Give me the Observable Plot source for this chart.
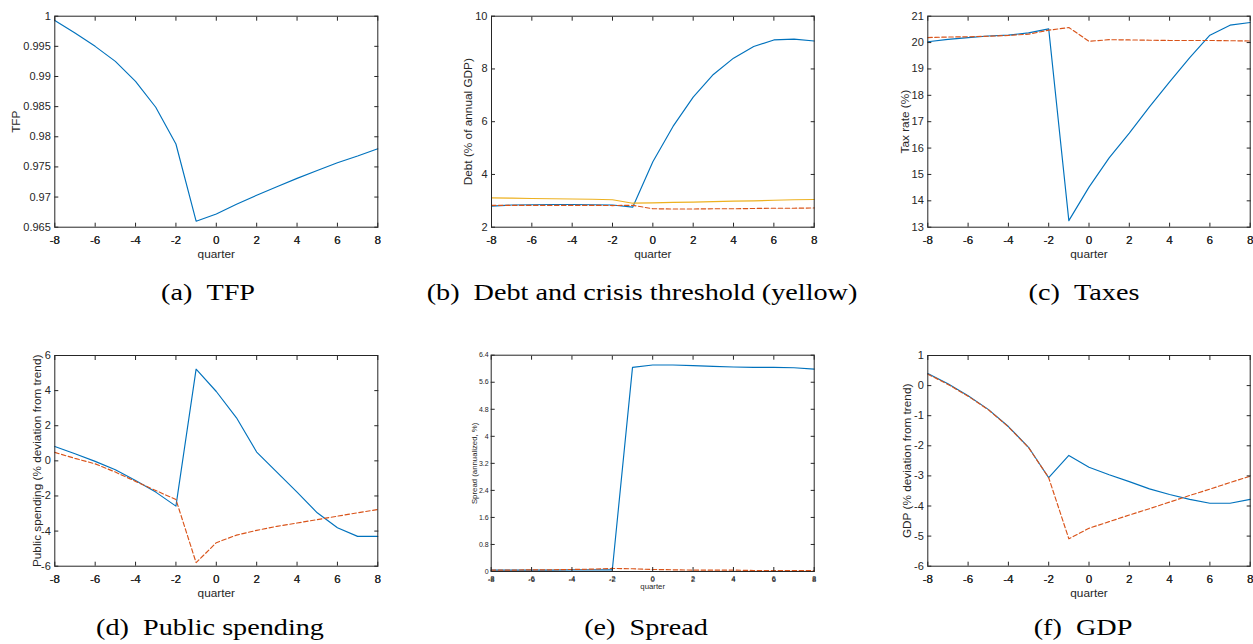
<!DOCTYPE html>
<html><head><meta charset="utf-8">
<script src="https://cdn.jsdelivr.net/npm/d3@7"></script>
<script src="https://cdn.jsdelivr.net/npm/@observablehq/plot@0.6"></script>
<style>
body{margin:0;background:#fff;}
#root{position:relative;width:1253px;height:644px;overflow:hidden;background:#fff;}
.panel{position:absolute;}
.panel svg{overflow:visible;max-width:none;}
.cap{position:absolute;font-family:"Liberation Serif","Times New Roman",serif;font-size:23.5px;line-height:24px;color:#000;white-space:nowrap;transform:translateX(-50%) scaleX(1.2);}
</style></head>
<body><div id="root"></div>
<script>
// ---- data ----
const quarters = [-8,-7,-6,-5,-4,-3,-2,-1,0,1,2,3,4,5,6,7,8];
const xTicks = [-8,-6,-4,-2,0,2,4,6,8];

const tfp = [0.9993,0.9972,0.9950,0.9925,0.9892,0.9849,0.9788,0.9660,0.9672,0.9688,0.9703,0.9717,0.9731,0.9744,0.9757,0.9768,0.9780];
const tfpTicks = [0.965,0.97,0.975,0.98,0.985,0.99,0.995,1];

const debtCrisis = [2.80,2.84,2.85,2.86,2.86,2.85,2.84,2.76,4.48,5.82,6.93,7.79,8.41,8.85,9.10,9.13,9.06];
const debtNoCrisis = [2.83,2.83,2.83,2.83,2.83,2.83,2.82,2.83,2.70,2.69,2.69,2.70,2.70,2.71,2.72,2.72,2.73];
const debtThreshold = [3.11,3.10,3.09,3.08,3.07,3.06,3.04,2.91,2.92,2.94,2.95,2.97,2.99,3.00,3.02,3.04,3.05];
const debtTicks = [2,4,6,8,10];

const taxCrisis = [20.03,20.12,20.19,20.25,20.28,20.37,20.52,13.25,14.52,15.63,16.57,17.56,18.51,19.43,20.28,20.66,20.76];
const taxNoCrisis = [20.19,20.21,20.22,20.24,20.27,20.32,20.47,20.57,20.05,20.11,20.10,20.09,20.08,20.08,20.08,20.07,20.06];
const taxTicks = [13,14,15,16,17,18,19,20,21];

const spendCrisis = [0.82,0.40,-0.03,-0.51,-1.12,-1.78,-2.58,5.22,3.95,2.45,0.50,-0.64,-1.78,-2.96,-3.81,-4.30,-4.30];
const spendNoCrisis = [0.48,0.14,-0.17,-0.64,-1.17,-1.69,-2.20,-5.80,-4.66,-4.23,-3.96,-3.73,-3.54,-3.35,-3.15,-2.96,-2.77];
const spendTicks = [-6,-4,-2,0,2,4,6];

const spreadCrisis = [0.04,0.04,0.04,0.04,0.05,0.05,0.05,6.04,6.11,6.11,6.09,6.07,6.05,6.04,6.04,6.03,5.99];
const spreadNoCrisis = [0.04,0.04,0.05,0.05,0.06,0.07,0.09,0.08,0.06,0.05,0.04,0.04,0.04,0.03,0.03,0.03,0.03];
const spreadTicks = [0,0.8,1.6,2.4,3.2,4,4.8,5.6,6.4];

const gdpCrisis = [0.40,0.06,-0.34,-0.79,-1.36,-2.05,-3.06,-2.32,-2.71,-2.96,-3.19,-3.43,-3.62,-3.78,-3.91,-3.91,-3.78];
const gdpNoCrisis = [0.38,0.04,-0.35,-0.80,-1.37,-2.06,-3.06,-5.09,-4.74,-4.52,-4.30,-4.09,-3.87,-3.65,-3.44,-3.22,-3.01];
const gdpTicks = [-6,-5,-4,-3,-2,-1,0,1];

const captions = [
  ["(a)", "TFP"], ["(b)", "Debt and crisis threshold (yellow)"], ["(c)", "Taxes"],
  ["(d)", "Public spending"], ["(e)", "Spread"], ["(f)", "GDP"]
];

// ---- styles ----
const BLUE = "#0072BD", ORANGE = "#D95319", YELLOW = "#EDB120", AX = "#262626";
const fmt = d => String(+(+d).toFixed(6));

function series(vals, color, dashed) {
  return Plot.line(quarters.map((q, i) => ({q, v: vals[i]})), {
    x: "q", y: "v", stroke: color, strokeWidth: 1.15,
    strokeDasharray: dashed ? "4.5,2.5" : null
  });
}

function panel(cfg) {
  const {left, top, width, height, mL, mR, mT, mB, yTicks, ylabel, yLabelOffset,
    xLabelOffset, lines, tickFont = 11, labelFont = 11.8, xPad = 8.5, yPad = 4, tick = 4} = cfg;
  const yDomain = [yTicks[0], yTicks[yTicks.length - 1]];
  const chart = Plot.plot({
    width, height, marginLeft: mL, marginRight: mR, marginTop: mT, marginBottom: mB,
    x: {domain: [-8, 8]},
    y: {domain: yDomain},
    style: {fontFamily: "'Liberation Sans', Arial, sans-serif", fontSize: tickFont + "px", color: AX, background: "transparent", overflow: "visible"},
    marks: [
      ...lines,
      Plot.frame({stroke: AX, strokeWidth: 1}),
      Plot.axisX(xTicks, {anchor: "bottom", tickSize: -tick, tickFormat: () => "", label: null, stroke: AX}),
      Plot.axisX(xTicks, {anchor: "top", tickSize: -tick, tickFormat: () => "", label: null, stroke: AX}),
      Plot.axisY(yTicks, {anchor: "left", tickSize: -tick, tickFormat: () => "", label: null, stroke: AX}),
      Plot.axisY(yTicks, {anchor: "right", tickSize: -tick, tickFormat: () => "", label: null, stroke: AX}),
      Plot.axisX(xTicks, {anchor: "bottom", tickSize: 0, tickPadding: xPad, tickFormat: fmt, fill: AX,
        label: "quarter", labelAnchor: "center", labelArrow: "none", labelOffset: xLabelOffset, fontSize: labelFont}),
      Plot.axisX(xTicks, {anchor: "bottom", tickSize: 0, tickPadding: xPad, tickFormat: fmt, fill: AX, label: null, fontSize: tickFont}),
      Plot.axisY(yTicks, {anchor: "left", tickSize: 0, tickPadding: yPad, tickFormat: fmt, fill: AX, label: null, fontSize: tickFont}),
      Plot.axisY([], {anchor: "left", tickSize: 0, label: ylabel, labelAnchor: "center", labelArrow: "none",
        labelOffset: yLabelOffset, fill: AX, fontSize: labelFont})
    ]
  });
  const div = document.createElement("div");
  div.className = "panel";
  div.style.left = left + "px"; div.style.top = top + "px"; div.style.width = width + "px"; div.style.height = height + "px";
  div.appendChild(chart);
  document.getElementById("root").appendChild(div);
}

// Row 1
panel({left: 0, top: 0, width: 420, height: 265, mL: 54.3, mR: 42.7, mT: 15.7, mB: 38.3,
  yTicks: tfpTicks, ylabel: "TFP", yLabelOffset: 43.5, xLabelOffset: 30.8,
  lines: [series(tfp, BLUE, false)]});
panel({left: 420, top: 0, width: 420, height: 265, mL: 71, mR: 26.3, mT: 15.7, mB: 38.3,
  yTicks: debtTicks, ylabel: "Debt (% of annual GDP)", yLabelOffset: 27.5, xLabelOffset: 30.8,
  lines: [series(debtCrisis, BLUE, false), series(debtNoCrisis, ORANGE, true), series(debtThreshold, YELLOW, false)]});
panel({left: 840, top: 0, width: 413, height: 265, mL: 87.3, mR: 3.3, mT: 15.7, mB: 38.3,
  yTicks: taxTicks, ylabel: "Tax rate (%)", yLabelOffset: 27.5, xLabelOffset: 30.8,
  lines: [series(taxCrisis, BLUE, false), series(taxNoCrisis, ORANGE, true)]});
// Row 2
panel({left: 0, top: 330, width: 420, height: 275, mL: 54.3, mR: 42.7, mT: 25, mB: 39.3,
  yTicks: spendTicks, ylabel: "Public spending (% deviation from trend)", yLabelOffset: 21.9, xLabelOffset: 30.8,
  lines: [series(spendCrisis, BLUE, false), series(spendNoCrisis, ORANGE, true)]});
panel({left: 420, top: 330, width: 420, height: 275, mL: 70.7, mR: 26.3, mT: 24.7, mB: 34,
  yTicks: spreadTicks, ylabel: "Spread (annualized, %)", yLabelOffset: 19.5, xLabelOffset: 17.9,
  tickFont: 7, labelFont: 7.8, xPad: 4.8, yPad: 2.5, tick: 4,
  lines: [series(spreadCrisis, BLUE, false), series(spreadNoCrisis, ORANGE, true)]});
panel({left: 840, top: 330, width: 413, height: 275, mL: 87.3, mR: 3.3, mT: 25, mB: 39.3,
  yTicks: gdpTicks, ylabel: "GDP (% deviation from trend)", yLabelOffset: 24.9, xLabelOffset: 30.8,
  lines: [series(gdpCrisis, BLUE, false), series(gdpNoCrisis, ORANGE, true)]});

// Captions
const capPos = [[208, 293], [642, 293], [1084, 293], [210, 628], [646, 628], [1083, 628]];
captions.forEach(([tag, text], i) => {
  const d = document.createElement("div");
  d.className = "cap";
  d.textContent = tag + "\u2002" + text;
  d.style.left = capPos[i][0] + "px";
  d.style.top = (capPos[i][1] - 13) + "px";
  document.getElementById("root").appendChild(d);
});
</script>
</body></html>
